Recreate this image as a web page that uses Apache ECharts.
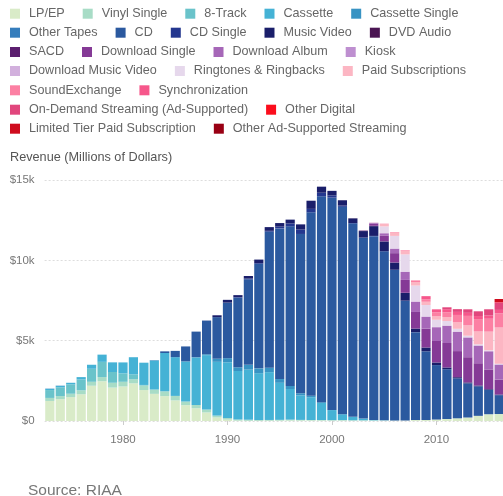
<!DOCTYPE html>
<html>
<head>
<meta charset="utf-8">
<title>Revenue by format</title>
<script src="https://cdn.jsdelivr.net/npm/echarts@6/dist/echarts.min.js"></script>
<style>
  html, body { margin: 0; padding: 0; background: #fff; }
  #chart { width: 503px; height: 496px; }
</style>
</head>
<body>
<div id="chart"></div>
<script>
var FONT = "'Liberation Sans', Arial, Helvetica, sans-serif";

var years = [
    '1973', '1974', '1975', '1976', '1977', '1978', '1979',
    '1980', '1981', '1982', '1983', '1984', '1985', '1986', '1987', '1988', '1989',
    '1990', '1991', '1992', '1993', '1994', '1995', '1996', '1997', '1998', '1999',
    '2000', '2001', '2002', '2003', '2004', '2005', '2006', '2007', '2008', '2009',
    '2010', '2011', '2012', '2013', '2014', '2015', '2016'
];

// revenue in millions of dollars, one value per year above
var lpEp = [1247, 1356, 1485, 1663, 2195, 2473, 2080,
    2150, 2342, 1925, 1689, 1549, 1281, 983, 793, 532, 220,
    87, 29, 14, 11, 18, 25, 37, 33, 34, 32,
    28, 27, 21, 22, 19, 14, 16, 23, 57, 60,
    89, 119, 163, 211, 315, 416, 430];
var vinylSingle = [190, 194, 212, 245, 245, 260, 300,
    290, 256, 283, 269, 299, 281, 228, 203, 180, 116,
    94, 64, 66, 51, 47, 47, 48, 36, 26, 28,
    26, 31, 25, 22, 15, 13, 11, 4, 3, 3,
    2, 4, 5, 6, 6, 6, 7];
var eightTrack = [489, 549, 583, 678, 811, 948, 670,
    526, 309, 36, 0, 0, 0, 0, 0, 0, 0,
    0, 0, 0, 0, 0, 0, 0, 0, 0, 0,
    0, 0, 0, 0, 0, 0, 0, 0, 0, 0,
    0, 0, 0, 0, 0, 0, 0];
var cassette = [76, 87, 99, 146, 250, 450, 600,
    680, 1063, 1385, 1811, 2384, 2412, 2500, 2960, 3385, 3346,
    3472, 3020, 3116, 2916, 2976, 2304, 1905, 1523, 1420, 1062,
    626, 363, 210, 108, 24, 13, 4, 0, 0, 0,
    0, 0, 0, 0, 0, 0, 0];
var cassetteSingle = [0, 0, 0, 0, 0, 0, 0,
    0, 0, 0, 0, 0, 0, 0, 14, 57, 195,
    258, 230, 299, 299, 275, 236, 189, 134, 94, 48,
    5, 0, 2, 0, 0, 0, 0, 0, 0, 0,
    0, 0, 0, 0, 0, 0, 0];
var otherTapes = [15, 14, 0, 0, 0, 0, 0,
    0, 0, 0, 0, 0, 0, 0, 0, 0, 0,
    0, 0, 0, 0, 0, 0, 0, 0, 0, 0,
    0, 0, 0, 0, 0, 0, 0, 0, 0, 0,
    0, 0, 0, 0, 0, 0, 0];
var cd = [0, 0, 0, 0, 0, 0, 0,
    0, 0, 0, 17, 103, 390, 930, 1594, 2090, 2588,
    3452, 4338, 5327, 6511, 8465, 9377, 9935, 9915, 11416, 12816,
    13215, 12909, 12044, 11233, 11447, 10520, 9373, 7452, 5471, 4274,
    3389, 3101, 2486, 2124, 1835, 1515, 1169];
var cdSingle = [0, 0, 0, 0, 0, 0, 0,
    0, 0, 0, 0, 0, 0, 0, 0, 10, 0,
    6, 35, 45, 46, 56, 111, 184, 273, 213, 222,
    143, 79, 20, 36, 15, 11, 8, 12, 4, 3,
    1, 1, 0, 0, 0, 0, 0];
var musicVideo = [0, 0, 0, 0, 0, 0, 0,
    0, 0, 0, 0, 0, 0, 0, 0, 0, 115,
    172, 118, 157, 213, 231, 220, 236, 324, 508, 377,
    282, 329, 288, 400, 607, 602, 451, 485, 219, 235,
    162, 108, 73, 60, 52, 44, 40];
var dvdAudio = [0, 0, 0, 0, 0, 0, 0,
    0, 0, 0, 0, 0, 0, 0, 0, 0, 0,
    0, 0, 0, 0, 0, 0, 0, 0, 0, 0,
    0, 6, 9, 6, 7, 3, 1, 1, 0, 0,
    0, 0, 0, 0, 0, 0, 0];
var sacd = [0, 0, 0, 0, 0, 0, 0,
    0, 0, 0, 0, 0, 0, 0, 0, 0, 0,
    0, 0, 0, 0, 0, 0, 0, 0, 0, 0,
    0, 0, 0, 26, 17, 11, 3, 3, 0, 0,
    0, 0, 0, 0, 0, 0, 0];
var downloadSingle = [0, 0, 0, 0, 0, 0, 0,
    0, 0, 0, 0, 0, 0, 0, 0, 0, 0,
    0, 0, 0, 0, 0, 0, 0, 0, 0, 0,
    0, 0, 0, 0, 138, 363, 581, 802, 1032, 1172,
    1336, 1523, 1624, 1570, 1388, 1228, 933];
var downloadAlbum = [0, 0, 0, 0, 0, 0, 0,
    0, 0, 0, 0, 0, 0, 0, 0, 0, 0,
    0, 0, 0, 0, 0, 0, 0, 0, 0, 0,
    0, 0, 0, 0, 46, 136, 276, 498, 635, 744,
    858, 1076, 1204, 1228, 1099, 1131, 935];
var kiosk = [0, 0, 0, 0, 0, 0, 0,
    0, 0, 0, 0, 0, 0, 0, 0, 0, 0,
    0, 0, 0, 0, 0, 0, 0, 0, 0, 0,
    0, 0, 0, 0, 0, 1, 2, 3, 3, 3,
    2, 3, 5, 2, 2, 1, 2];
var downloadMusicVideo = [0, 0, 0, 0, 0, 0, 0,
    0, 0, 0, 0, 0, 0, 0, 0, 0, 0,
    0, 0, 0, 0, 0, 0, 0, 0, 0, 0,
    0, 0, 0, 0, 0, 2, 20, 29, 29, 21,
    15, 12, 12, 10, 9, 9, 5];
var ringtones = [0, 0, 0, 0, 0, 0, 0,
    0, 0, 0, 0, 0, 0, 0, 0, 0, 0,
    0, 0, 0, 0, 0, 0, 0, 0, 0, 0,
    0, 0, 0, 0, 0, 422, 775, 1056, 977, 702,
    448, 277, 167, 98, 66, 55, 40];
var paidSubscriptions = [0, 0, 0, 0, 0, 0, 0,
    0, 0, 0, 0, 0, 0, 0, 0, 0, 0,
    0, 0, 0, 0, 0, 0, 0, 0, 0, 0,
    0, 0, 0, 0, 0, 149, 206, 234, 221, 206,
    212, 248, 400, 643, 799, 1157, 2258];
var soundExchange = [0, 0, 0, 0, 0, 0, 0,
    0, 0, 0, 0, 0, 0, 0, 0, 0, 0,
    0, 0, 0, 0, 0, 0, 0, 0, 0, 0,
    0, 0, 0, 0, 7, 20, 33, 36, 100, 156,
    249, 292, 462, 590, 773, 803, 884];
var synchronization = [0, 0, 0, 0, 0, 0, 0,
    0, 0, 0, 0, 0, 0, 0, 0, 0, 0,
    0, 0, 0, 0, 0, 0, 0, 0, 0, 0,
    0, 0, 0, 0, 0, 0, 0, 0, 0, 192,
    188, 197, 190, 190, 189, 203, 212];
var onDemandStreaming = [0, 0, 0, 0, 0, 0, 0,
    0, 0, 0, 0, 0, 0, 0, 0, 0, 0,
    0, 0, 0, 0, 0, 0, 0, 0, 0, 0,
    0, 0, 0, 0, 0, 0, 0, 0, 0, 0,
    0, 116, 171, 220, 295, 385, 469];
var otherDigital = [0, 0, 0, 0, 0, 0, 0,
    0, 0, 0, 0, 0, 0, 0, 0, 0, 0,
    0, 0, 0, 0, 0, 0, 0, 0, 0, 0,
    0, 0, 0, 0, 0, 0, 0, 0, 0, 0,
    0, 0, 0, 0, 0, 0, 20];
var limitedTier = [0, 0, 0, 0, 0, 0, 0,
    0, 0, 0, 0, 0, 0, 0, 0, 0, 0,
    0, 0, 0, 0, 0, 0, 0, 0, 0, 0,
    0, 0, 0, 0, 0, 0, 0, 0, 0, 0,
    0, 0, 0, 0, 0, 0, 190];
var otherAdStreaming = [0, 0, 0, 0, 0, 0, 0,
    0, 0, 0, 0, 0, 0, 0, 0, 0, 0,
    0, 0, 0, 0, 0, 0, 0, 0, 0, 0,
    0, 0, 0, 0, 0, 0, 0, 0, 0, 0,
    0, 0, 0, 0, 0, 0, 0];

// stacking order, bottom to top
var formats = [
    ['LP/EP', '#d9ebc8', lpEp],
    ['Vinyl Single', '#a8dcc6', vinylSingle],
    ['8-Track', '#6ac3ca', eightTrack],
    ['Cassette', '#45b2d5', cassette],
    ['Cassette Single', '#3893c3', cassetteSingle],
    ['Other Tapes', '#357dbc', otherTapes],
    ['CD', '#2b599f', cd],
    ['CD Single', '#24378f', cdSingle],
    ['Music Video', '#1a1e6a', musicVideo],
    ['DVD Audio', '#4b1553', dvdAudio],
    ['SACD', '#5c1f6f', sacd],
    ['Download Single', '#853a96', downloadSingle],
    ['Download Album', '#a667b8', downloadAlbum],
    ['Kiosk', '#be8fd0', kiosk],
    ['Download Music Video', '#d2b0dd', downloadMusicVideo],
    ['Ringtones & Ringbacks', '#e6d8ec', ringtones],
    ['Paid Subscriptions', '#fcb6c3', paidSubscriptions],
    ['SoundExchange', '#fc80a3', soundExchange],
    ['Synchronization', '#f6578b', synchronization],
    ['On-Demand Streaming (Ad-Supported)', '#e1467d', onDemandStreaming],
    ['Other Digital', '#fb0d1c', otherDigital],
    ['Limited Tier Paid Subscription', '#cf0c1e', limitedTier],
    ['Other Ad-Supported Streaming', '#990014', otherAdStreaming]
];

var legendRows = [
    ['LP/EP', 'Vinyl Single', '8-Track', 'Cassette', 'Cassette Single'],
    ['Other Tapes', 'CD', 'CD Single', 'Music Video', 'DVD Audio'],
    ['SACD', 'Download Single', 'Download Album', 'Kiosk'],
    ['Download Music Video', 'Ringtones & Ringbacks', 'Paid Subscriptions'],
    ['SoundExchange', 'Synchronization'],
    ['On-Demand Streaming (Ad-Supported)', 'Other Digital'],
    ['Limited Tier Paid Subscription', 'Other Ad-Supported Streaming']
];
var legendTops = [7.2, 26.2, 45.5, 64.5, 83.8, 103.2, 122.2];

var myChart = echarts.init(document.getElementById('chart'));

var legends = legendRows.map(function(row, i) {
    return {
        data: row,
        left: 10,
        top: legendTops[i],
        padding: 0,
        icon: 'rect',
        itemWidth: 10,
        itemHeight: 10,
        itemGap: 18,
        selectedMode: false,
        textStyle: { fontFamily: FONT, fontSize: 12.6, color: '#666', padding: [0, 0, 0, 4] }
    };
});

var series = formats.map(function(f) {
    return {
        name: f[0],
        type: 'bar',
        stack: 'revenue',
        data: f[2],
        barCategoryGap: '12%',
        itemStyle: { color: f[1] },
        silent: true
    };
});

var onDecade = function(index, value) {
    return Number(value) % 10 === 0;
};

var option = {
    animation: false,
    title: [{
        text: 'Revenue (Millions of Dollars)',
        left: 10,
        top: 150.5,
        padding: 0,
        textStyle: { fontFamily: FONT, fontSize: 12.7, fontWeight: 'normal', color: '#555' }
    }, {
        text: 'Source: RIAA',
        left: 28,
        top: 483,
        padding: 0,
        textStyle: { fontFamily: FONT, fontSize: 15.5, fontWeight: 'normal', color: '#777' }
    }],
    legend: legends,
    grid: {
        left: 44.6,
        top: 180,
        width: 459.8,
        height: 241,
        outerBoundsMode: 'none'
    },
    xAxis: {
        type: 'category',
        data: years,
        axisLine: { show: false },
        axisTick: { show: true, interval: onDecade, alignWithLabel: true, length: 4, lineStyle: { color: '#ccc' } },
        axisLabel: { interval: onDecade, margin: 13, fontFamily: FONT, fontSize: 11.5, color: '#777' }
    },
    yAxis: {
        type: 'value',
        min: 0,
        max: 15000,
        interval: 5000,
        axisLine: { show: false },
        axisTick: { show: false },
        splitLine: { lineStyle: { color: '#ddd', type: [2, 2] } },
        axisLabel: {
            margin: 10,
            fontFamily: FONT,
            fontSize: 11.5,
            color: '#777',
            formatter: function(v) {
                return v === 0 ? '$0' : '$' + (v / 1000) + 'k';
            }
        }
    },
    series: series
};

myChart.setOption(option);
</script>
</body>
</html>
